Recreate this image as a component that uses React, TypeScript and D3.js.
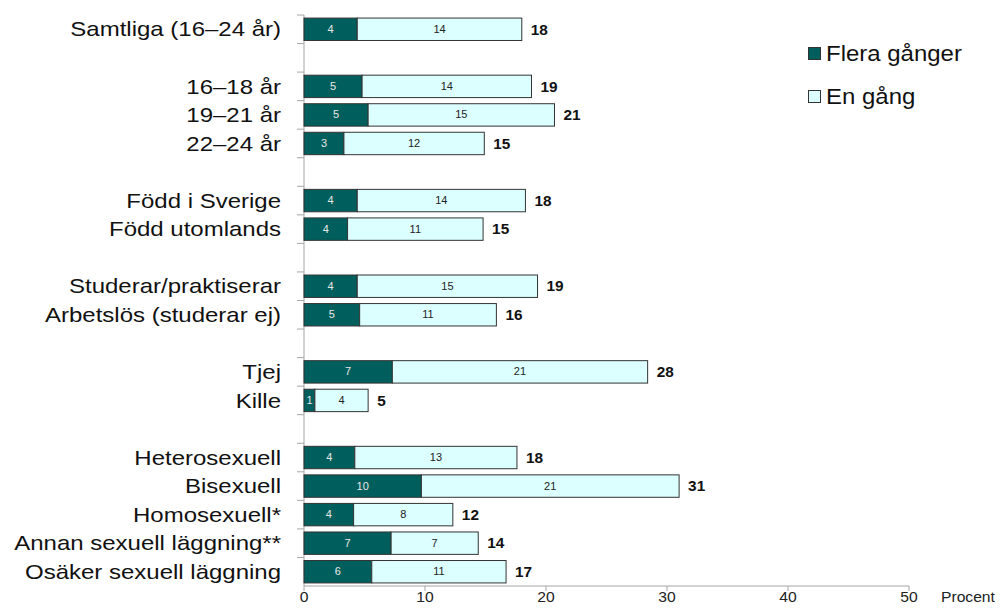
import React from "react";
import * as d3 from "d3";

// Share (%) per group, split into "several times" and "once"
const CATEGORIES: string[] = [
  "Samtliga (16–24 år)",
  "",
  "16–18 år",
  "19–21 år",
  "22–24 år",
  "",
  "Född i Sverige",
  "Född utomlands",
  "",
  "Studerar/praktiserar",
  "Arbetslös (studerar ej)",
  "",
  "Tjej",
  "Kille",
  "",
  "Heterosexuell",
  "Bisexuell",
  "Homosexuell*",
  "Annan sexuell läggning**",
  "Osäker sexuell läggning",
];

const FLERA_GANGER: (number | null)[] = [
  4.4, null, 4.8, 5.3, 3.3, null, 4.4, 3.6, null, 4.4, 4.6, null, 7.3, 0.9, null,
  4.2, 9.7, 4.1, 7.2, 5.6,
];

const EN_GANG: (number | null)[] = [
  13.6, null, 14.0, 15.4, 11.6, null, 13.9, 11.2, null, 14.9, 11.3, null, 21.1,
  4.4, null, 13.4, 21.3, 8.2, 7.2, 11.1,
];

const X_TICKS = [0, 10, 20, 30, 40, 50];
const SERIES_NAMES = ["Flera gånger", "En gång"];

const WIDTH = 1000;
const HEIGHT = 612;
const DARK = "#005F5D";
const LIGHT = "#DCFFFF";
const AXIS = "#A6A6A6";
const FONT = "'Liberation Sans', Arial, sans-serif";

export default function App() {
  const x = d3.scaleLinear().domain([0, 50]).range([304, 909]);
  const y = d3
    .scaleBand<number>()
    .domain(CATEGORIES.map((_, i) => i))
    .range([15, 586])
    .paddingInner(0)
    .paddingOuter(0);
  const bw = y.bandwidth();
  const barH = bw * 0.785;
  const fmt = d3.format(".0f");

  const boundaries = d3.range(CATEGORIES.length).map((i) => y(i)!);

  return (
    <svg
      width={WIDTH}
      height={HEIGHT}
      style={{ position: "absolute", left: 0, top: 0, background: "#fff" }}
      fontFamily={FONT}
    >
      {/* category axis */}
      <line x1={x(0)} x2={x(0)} y1={15} y2={586} stroke={AXIS} strokeWidth={1} />
      {boundaries.map((b, i) => (
        <line key={"yt" + i} x1={x(0) - 7} x2={x(0)} y1={b} y2={b} stroke={AXIS} />
      ))}

      {/* value axis */}
      <line x1={x(0)} x2={x(50)} y1={586} y2={586} stroke={AXIS} />
      {X_TICKS.map((t) => (
        <g key={"xt" + t} transform={`translate(${x(t)},586)`}>
          <line y1={0} y2={5} stroke={AXIS} />
          <text
            y={16}
            textAnchor="middle"
            fontSize={14.5}
            fill="#222"
            transform="scale(1.08,1)"
          >
            {t}
          </text>
        </g>
      ))}
      <text
        transform={`translate(${x(50) + 32},602) scale(1.08,1)`}
        fontSize={14.5}
        fill="#222"
      >
        Procent
      </text>

      {/* category labels */}
      {CATEGORIES.map((c, i) =>
        c ? (
          <text
            key={"cl" + i}
            transform={`translate(281,${y(i)! + bw / 2}) scale(1.2,1)`}
            textAnchor="end"
            dy="0.36em"
            fontSize={20}
            fill="#111"
          >
            {c}
          </text>
        ) : null
      )}

      {/* stacked bars */}
      {CATEGORIES.map((c, i) => {
        const a = FLERA_GANGER[i];
        const b = EN_GANG[i];
        if (a == null || b == null) return null;
        const top = y(i)! + (bw - barH) / 2;
        const cy = y(i)! + bw / 2;
        const total = a + b;
        return (
          <g key={"bar" + i}>
            <rect
              x={x(0)}
              y={top}
              width={x(a) - x(0)}
              height={barH}
              fill={DARK}
              stroke="#333"
              strokeWidth={1}
            />
            <rect
              x={x(a)}
              y={top}
              width={x(total) - x(a)}
              height={barH}
              fill={LIGHT}
              stroke="#333"
              strokeWidth={1}
            />
            <text
              transform={`translate(${(x(0) + x(a)) / 2},${cy}) scale(1.1,1)`}
              textAnchor="middle"
              dy="0.35em"
              fontSize={10}
              fill="#E8E8E8"
            >
              {fmt(a)}
            </text>
            <text
              transform={`translate(${(x(a) + x(total)) / 2},${cy}) scale(1.1,1)`}
              textAnchor="middle"
              dy="0.35em"
              fontSize={10}
              fill="#222"
            >
              {fmt(b)}
            </text>
            <text
              transform={`translate(${x(total) + 9},${cy}) scale(1.06,1)`}
              dy="0.36em"
              fontSize={14.5}
              fontWeight="bold"
              fill="#111"
            >
              {fmt(total)}
            </text>
          </g>
        );
      })}

      {/* legend */}
      {SERIES_NAMES.map((name, k) => (
        <g key={"lg" + k} transform={`translate(808,${47 + k * 43})`}>
          <rect
            x={0.5}
            y={0.5}
            width={12}
            height={12}
            fill={k === 0 ? DARK : LIGHT}
            stroke="#333"
          />
          <text
            transform={`translate(18,6.5) scale(1.09,1)`}
            dy="0.36em"
            fontSize={22}
            fill="#111"
          >
            {name}
          </text>
        </g>
      ))}
    </svg>
  );
}
